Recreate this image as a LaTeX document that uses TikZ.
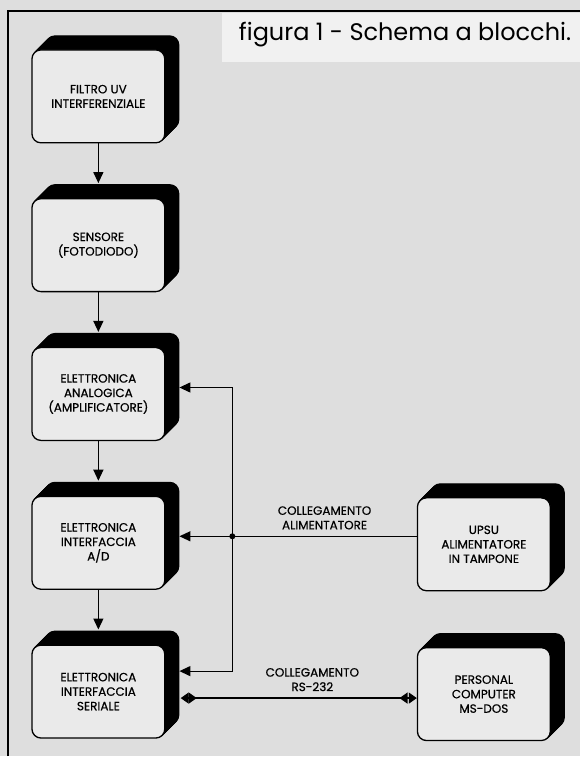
\documentclass[tikz,border=0pt]{standalone}
\usepackage{fontspec}
\setmainfont{Poppins}
\newfontfamily\blkfam{Poppins}[FakeBold=0.6]
\usetikzlibrary{arrows.meta,positioning,calc,shadows}
\definecolor{paper}{HTML}{DEDEDE}
\definecolor{facegray}{HTML}{EAEAEA}
\definecolor{panelwhite}{HTML}{F1F1F1}
\newcommand{\blkfont}{\blkfam\fontsize{12}{14.5}\selectfont}
\newcommand{\titlefont}{\fontsize{24}{28}\selectfont}
\tikzset{
  extrude/.style={general shadow={fill=black, draw=black, line width=1.2pt,
                  shadow xshift=#1, shadow yshift=#1}},
  blockbox/.style={draw=black, line width=1.3pt, fill=facegray, rounded corners=9pt,
                   minimum width=133pt, minimum height=93pt, inner sep=2pt,
                   align=center, font=\blkfont,
                   extrude=1pt, extrude=2pt, extrude=3pt, extrude=4pt, extrude=5pt,
                   extrude=6pt, extrude=7pt, extrude=8pt, extrude=9pt, extrude=10pt,
                   extrude=11pt, extrude=12pt, extrude=13pt, extrude=14pt},
  arr/.style={-{Triangle[length=11pt,width=10pt]}, line width=1.2pt},
  dblarr/.style={{Triangle[length=8pt,width=11pt,sep=1.3pt]Triangle[length=8pt,width=11pt,reversed]}-%
                 {Triangle[length=8pt,width=11pt,reversed,sep=1.3pt]Triangle[length=8pt,width=11pt]},
                 line width=1.2pt},
  linklbl/.style={font=\blkfont, align=center}}

\begin{document}
\begin{tikzpicture}[x=1pt, y=-1pt]
  % fondo e cornice
  \fill[paper] (0,0) rectangle (581,757);
  \fill[panelwhite] (222,13) rectangle (581,62);
  \draw[line width=2pt] (8,757) -- (8,11) -- (581,11);
  \node[font=\titlefont, anchor=base east, inner sep=0pt] (titolo) at (572,41)
    {figura 1 - Schema a blocchi.};

  % catena di blocchi
  \node[blockbox] (filtro)  at (98.5,96.5)  {FILTRO UV\\INTERFERENZIALE};
  \node[blockbox] (sensore) at (98.5,245.5) {SENSORE\\(FOTODIODO)};
  \node[blockbox] (analog)  at (98.5,394.5) {ELETTRONICA\\ANALOGICA\\(AMPLIFICATORE)};
  \node[blockbox] (adconv)  at (98.5,543.5) {ELETTRONICA\\INTERFACCIA\\A/D};
  \node[blockbox] (seriale) at (98.5,692.5) {ELETTRONICA\\INTERFACCIA\\SERIALE};
  \node[blockbox] (upsu)    at (484.5,545)  {UPSU\\ALIMENTATORE\\IN TAMPONE};
  \node[blockbox] (pc)      at (484.5,695)  {PERSONAL\\COMPUTER\\MS-DOS};

  \draw[arr] (filtro.south)  -- ($(sensore.north)+(0,-15)$);
  \draw[arr] (sensore.south) -- ($(analog.north)+(0,-15)$);
  \draw[arr] (analog.south)  -- ($(adconv.north)+(0,-15)$);
  \draw[arr] (adconv.south)  -- ($(seriale.north)+(0,-15)$);

  % alimentazione e seriale
  \coordinate (analin) at ($(analog.east)+(14,-6.5)$);
  \coordinate (adcin)  at ($(adconv.east)+(14,-6.5)$);
  \coordinate (serin)  at ($(seriale.east)+(14,-20.5)$);
  \coordinate (serio)  at ($(seriale.east)+(14,6.5)$);
  \coordinate (nodo)   at ($(adcin)+(53,0)$);
  \draw[arr] (upsu.west |- adcin) -- node[linklbl, above=3pt] {COLLEGAMENTO\\ALIMENTATORE} (nodo) -- (adcin);
  \draw[arr] (nodo) |- (analin);
  \draw[arr] (nodo) |- (serin);
  \fill (nodo) circle (3);
  \draw[dblarr] (serio) -- node[linklbl, above=3pt, pos=0.56] {COLLEGAMENTO\\RS-232} (pc.west |- serio);
\end{tikzpicture}
\end{document}
